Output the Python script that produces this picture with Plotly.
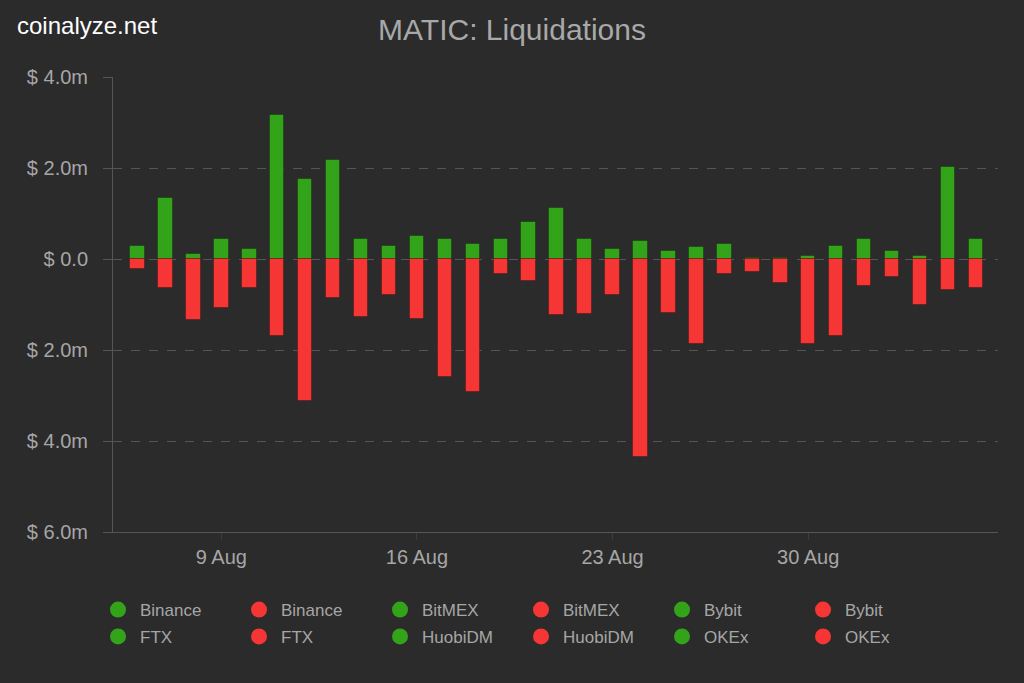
import pandas as pd
import plotly.graph_objects as go

# ---- data (values in $ millions) ----
dates = pd.date_range("2021-08-06", "2021-09-05", freq="D")
short_liq = [0.29, 1.34, 0.11, 0.44, 0.22, 3.16, 1.76, 2.18, 0.44, 0.29,
             0.51, 0.44, 0.33, 0.44, 0.81, 1.12, 0.44, 0.22, 0.40, 0.18,
             0.26, 0.33, 0.02, 0.02, 0.07, 0.29, 0.44, 0.18, 0.07, 2.02, 0.44]
long_liq = [0.22, 0.64, 1.34, 1.08, 0.64, 1.69, 3.12, 0.86, 1.27, 0.79,
            1.32, 2.59, 2.92, 0.33, 0.48, 1.23, 1.21, 0.79, 4.35, 1.19,
            1.87, 0.33, 0.29, 0.53, 1.87, 1.69, 0.59, 0.40, 1.01, 0.68, 0.64]
exchanges = ["Binance", "BitMEX", "Bybit", "FTX", "HuobiDM", "OKEx"]
ytick_vals = [-6, -4, -2, 0, 2, 4]
ytick_text = ["$ 6.0m", "$ 4.0m", "$ 2.0m", "$ 0.0", "$ 2.0m", "$ 4.0m"]

GREEN = "#33a31a"
RED = "#f63535"
BG = "#2b2b2b"
GRID = "#555555"
TXT = "#a6a6a6"
FONT = "Liberation Sans, Arial, sans-serif"

day_ms = 86400000
fig = go.Figure()
fig.add_trace(go.Bar(x=dates, y=short_liq, marker=dict(color=GREEN, line=dict(color="rgba(0,0,0,0.25)", width=1)),
                     width=0.52 * day_ms, showlegend=False, name="Shorts"))
fig.add_trace(go.Bar(x=dates, y=[-v for v in long_liq], marker=dict(color=RED, line=dict(color="rgba(0,0,0,0.25)", width=1)),
                     width=0.52 * day_ms, showlegend=False, name="Longs"))

for i, ex in enumerate(exchanges):
    for col in (GREEN, RED):
        fig.add_trace(go.Scatter(x=[None], y=[None], mode="markers", name=ex,
                                 marker=dict(color=col, size=17, symbol="circle"),
                                 showlegend=True, legend="legend" if i < 3 else "legend2"))

legend_common = dict(orientation="h", x=-0.0192, xanchor="left", yanchor="top",
                     entrywidth=92, entrywidthmode="pixels", traceorder="normal",
                     font=dict(size=17, color=TXT, family=FONT), itemsizing="trace",
                     itemwidth=34, bgcolor="rgba(0,0,0,0)", tracegroupgap=0)

fig.update_layout(
    width=1024, height=683,
    paper_bgcolor=BG, plot_bgcolor=BG,
    barmode="relative", bargap=0,
    margin=dict(l=113, r=26, t=77, b=151),
    font=dict(family=FONT, color=TXT, size=20),
    title=dict(text="MATIC: Liquidations", x=0.5, xanchor="center", y=0.957, yanchor="middle",
               font=dict(size=30, color="#a8a8a8", family=FONT)),
    legend=dict(y=-0.132, **legend_common),
    legend2=dict(y=-0.191, **legend_common),
    annotations=[dict(text="coinalyze.net", xref="paper", yref="paper", x=-0.111, y=1.114,
                      xanchor="left", yanchor="middle", showarrow=False,
                      font=dict(size=24, color="#ffffff", family=FONT))],
)
fig.update_xaxes(
    type="date", range=["2021-08-05 03:00", "2021-09-05 19:00"],
    tick0="2021-08-09", dtick=7 * day_ms, tickformat="%-d %b",
    showgrid=False, showline=True, linecolor=GRID, linewidth=1,
    ticks="outside", ticklen=7, tickcolor="#3c3c3c",
    tickfont=dict(size=20, color=TXT), zeroline=False,
)
fig.update_yaxes(
    range=[-6, 4], tickvals=ytick_vals, ticktext=ytick_text,
    showgrid=True, gridcolor=GRID, griddash="dash", gridwidth=1,
    showline=True, linecolor=GRID, linewidth=1, zeroline=False,
    ticks="outside", ticklen=9, tickcolor=GRID, ticklabelstandoff=11,
    tickfont=dict(size=20, color=TXT),
)

fig.write_html("out.html", config={"displayModeBar": False},
               post_script="document.body.style.margin='0';document.body.style.overflow='hidden';")
